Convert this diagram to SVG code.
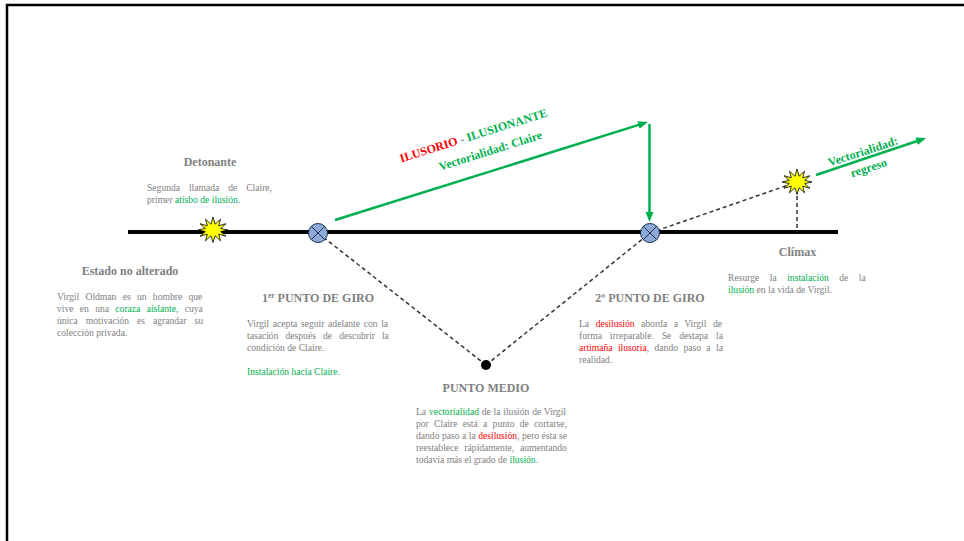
<svg xmlns="http://www.w3.org/2000/svg" xmlns:xlink="http://www.w3.org/1999/xlink" width="964" height="541" viewBox="0 0 964 541">
<style>
.h{font-family:"Liberation Serif","Times New Roman",serif;font-weight:bold;font-size:12px;fill:#7f7f7f;text-anchor:middle}
.b{font-family:"Liberation Serif","Times New Roman",serif;font-size:9.6px;fill:#808080}
.g{fill:#00b050}
.r{fill:#ff0000}
.vt{font-family:"Liberation Serif","Times New Roman",serif;font-weight:bold;font-size:12px;fill:#00b050;text-anchor:middle}
.arrow{stroke:#00b050;stroke-width:2.5;fill:none;marker-end:url(#ah)}
.dash{stroke:#333;stroke-width:1.5;stroke-dasharray:4 3;fill:none}
.star{fill:#ffff00;stroke:#000;stroke-width:0.8;stroke-linejoin:miter}
.giro{fill:#8eaadb;stroke:#1f2f4f;stroke-width:1}
.gx{stroke:#1f2f4f;stroke-width:1;fill:none}
</style>
<defs>
<marker id="ah" markerUnits="userSpaceOnUse" markerWidth="10" markerHeight="8" refX="7" refY="4" orient="auto">
<path d="M0,0 L10,4 L0,8 z" fill="#00b050"/>
</marker>
<polygon id="starShape" points="15,0 7.7,-1.6 13,-6.3 5.7,-4.2 7.5,-10.8 2.1,-5.8 0,-13 -2.1,-5.8 -7.5,-10.8 -5.7,-4.2 -13,-6.3 -7.7,-1.6 -15,0 -7.7,1.6 -13,6.3 -5.7,4.2 -7.5,10.8 -2.1,5.8 0,12.5 2.1,5.8 7.5,10.8 5.7,4.2 13,6.3 7.7,1.6"/>
</defs>
<rect width="964" height="541" fill="#fff"/>
<path d="M7,541 V5 H964" stroke="#000" stroke-width="2.5" fill="none"/>
<g id="timeline">
<line x1="128" y1="232" x2="838" y2="232" stroke="#000" stroke-width="4"/>
</g>
<g id="connectors">
<line class="arrow" x1="335" y1="220" x2="645.1" y2="122.9"/>
<line class="arrow" x1="649.5" y1="124" x2="649.5" y2="219"/>
<line class="arrow" x1="816" y1="175" x2="923.2" y2="139"/>
<line class="dash" x1="318" y1="233" x2="486" y2="365"/>
<line class="dash" x1="486" y1="365" x2="650" y2="233"/>
<line class="dash" x1="650" y1="233" x2="797" y2="182"/>
<line class="dash" x1="797" y1="182" x2="797" y2="232"/>
</g>
<g id="labels-vector">
<text class="vt" transform="translate(474.7,139.3) rotate(-17.5)"><tspan class="r">ILUSORIO</tspan><tspan fill="#7f7f7f"> - </tspan>ILUSIONANTE</text>
<text class="vt" transform="translate(491.5,154.5) rotate(-17.5)">Vectorialidad: Claire</text>
<text class="vt" transform="translate(864.2,155.3) rotate(-18)">Vectorialidad:</text>
<text class="vt" transform="translate(869.8,171.5) rotate(-18)">regreso</text>
</g>
<g id="detonante">
<use xlink:href="#starShape" href="#starShape" class="star" x="213" y="230"/>
<text class="h" x="210" y="166">Detonante</text>
<text class="b" x="147" y="191" word-spacing="6.5">Segunda llamada de Claire,</text>
<text class="b" x="147" y="203">primer <tspan class="g">atisbo de ilusión</tspan>.</text>
</g>
<g id="estado">
<text class="h" x="130" y="275">Estado no alterado</text>
<text class="b" x="57" y="300" word-spacing="3.9">Virgil Oldman es un hombre que</text>
<text class="b" x="57" y="312" word-spacing="3.9">vive en una <tspan class="g">coraza aislante,</tspan> cuya</text>
<text class="b" x="57" y="324" word-spacing="5.6">única motivación es agrandar su</text>
<text class="b" x="57" y="336">colección privada.</text>
</g>
<g id="giro1">
<circle class="giro" cx="318" cy="233" r="9.5"/>
<path class="gx" d="M311.3,226.3 L324.7,239.7 M324.7,226.3 L311.3,239.7"/>
<text class="h" x="318" y="302">1<tspan font-size="7.5" dy="-4.5">er</tspan><tspan dy="4.5"> PUNTO DE GIRO</tspan></text>
<text class="b" x="247" y="327" word-spacing="1.26">Virgil acepta seguir adelante con la</text>
<text class="b" x="247" y="339" word-spacing="4.7">tasación después de descubrir la</text>
<text class="b" x="247" y="351">condición de Claire.</text>
<text class="b g" x="247" y="375">Instalación hacia Claire.</text>
</g>
<g id="punto-medio">
<circle cx="486" cy="365" r="5" fill="#000"/>
<text class="h" x="486" y="392">PUNTO MEDIO</text>
<text class="b" x="416" y="415" word-spacing="0.37">La <tspan class="g">vectorialidad</tspan> de la ilusión de Virgil</text>
<text class="b" x="416" y="427" word-spacing="2.9">por Claire está a punto de cortarse,</text>
<text class="b" x="416" y="439" word-spacing="0.09">dando paso a la <tspan class="r">desilusión</tspan>, pero ésta se</text>
<text class="b" x="416" y="451" word-spacing="3.4">reestablece rápidamente, aumentando</text>
<text class="b" x="416" y="463">todavía más el grado de <tspan class="g">ilusión</tspan>.</text>
</g>
<g id="giro2">
<circle class="giro" cx="650" cy="233" r="9.5"/>
<path class="gx" d="M643.3,226.3 L656.7,239.7 M656.7,226.3 L643.3,239.7"/>
<text class="h" x="650" y="302">2º PUNTO DE GIRO</text>
<text class="b" x="579" y="327" word-spacing="4.1">La <tspan class="r">desilusión</tspan> aborda a Virgil de</text>
<text class="b" x="579" y="339" word-spacing="5.55">forma irreparable. Se destapa la</text>
<text class="b" x="579" y="351" word-spacing="3.0"><tspan class="r">artimaña ilusoria</tspan>, dando paso a la</text>
<text class="b" x="579" y="363">realidad.</text>
</g>
<g id="climax">
<use xlink:href="#starShape" href="#starShape" class="star" x="797" y="182"/>
<text class="h" x="797.5" y="256">Clímax</text>
<text class="b" x="728" y="281" word-spacing="8.1">Resurge la <tspan class="g">instalación</tspan> de la</text>
<text class="b" x="728" y="293"><tspan class="g">ilusión</tspan> en la vida de Virgil.</text>
</g>
</svg>
